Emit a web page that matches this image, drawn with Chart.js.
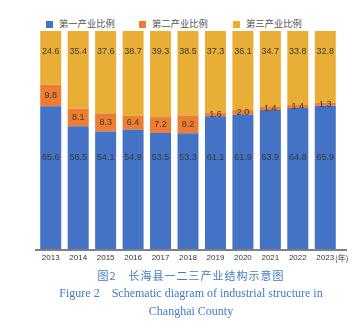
<!DOCTYPE html>
<html>
<head>
<meta charset="utf-8">
<script src="https://cdn.jsdelivr.net/npm/chart.js@4"></script>
<style>
  body { margin: 0; background: #fff; width: 361px; height: 332px; position: relative; overflow: hidden; }
  #wrap { position: absolute; left: 0; top: 0; width: 361px; height: 268px; }
  .lg { position: absolute; top: 17px; font: 9.3px "Noto Sans CJK SC", sans-serif; color: #555; line-height: 12px; }
  .lg i { display: inline-block; width: 7px; height: 7px; margin-right: 6px; vertical-align: -0.5px; }
  .cap { position: absolute; left: 0; width: 382px; text-align: center; color: #3f7bc2; white-space: pre; }
  .zh { top: 267px; font: 11px "Noto Sans CJK SC", sans-serif; letter-spacing: 1px; }
  .en { font: 12px "Liberation Serif", "Times New Roman", serif; }
</style>
</head>
<body>
<div class="lg" style="left:46px"><i style="background:#4472c4"></i>第一产业比例</div>
<div class="lg" style="left:139px"><i style="background:#ed7d31"></i>第二产业比例</div>
<div class="lg" style="left:233px"><i style="background:#e8ae36"></i>第三产业比例</div>
<div id="wrap"><canvas id="chart"></canvas></div>
<div class="cap zh">图2　长海县一二三产业结构示意图</div>
<div class="cap en" style="top:286px">Figure 2    Schematic diagram of industrial structure in</div>
<div class="cap en" style="top:304px">Changhai County</div>
<script>
// data (percent shares, each year sums to 100)
const years = ['2013', '2014', '2015', '2016', '2017', '2018', '2019', '2020', '2021', '2022', '2023'];
const primary = [65.6, 56.5, 54.1, 54.9, 53.5, 53.3, 61.1, 61.9, 63.9, 64.8, 65.9];
const secondary = [9.8, 8.1, 8.3, 6.4, 7.2, 8.2, 1.6, 2.0, 1.4, 1.4, 1.3];
const tertiary = [24.6, 35.4, 37.6, 38.7, 39.3, 38.5, 37.3, 36.1, 34.7, 33.8, 32.8];
const seriesNames = ['第一产业比例', '第二产业比例', '第三产业比例'];

/* value labels + axis line + unit label */
const segLabels = {
  id: 'segLabels',
  afterDatasetsDraw(chart) {
    const ctx = chart.ctx, y = chart.scales.y, area = chart.chartArea;
    ctx.save();
    // axis line
    ctx.strokeStyle = '#808080';
    ctx.lineWidth = 2;
    ctx.beginPath();
    ctx.moveTo(area.left - 2, area.bottom);
    ctx.lineTo(area.right + 8, area.bottom);
    ctx.stroke();

    ctx.font = '9px "Liberation Sans", Arial, sans-serif';
    ctx.fillStyle = '#3a3a3a';
    ctx.textAlign = 'center';
    ctx.textBaseline = 'middle';
    chart.data.datasets.forEach((ds, i) => {
      chart.getDatasetMeta(i).data.forEach((bar, j) => {
        let py;
        if (i === 0) py = y.getPixelForValue(42.3);
        else if (i === 2) py = y.getPixelForValue(90.6);
        else py = (bar.y + bar.base) / 2;
        ctx.fillText(ds.data[j].toFixed(1), bar.x, py);
      });
    });

    ctx.font = '8px "Noto Sans CJK SC", sans-serif';
    ctx.textAlign = 'left';
    ctx.fillText('(年)', area.right - 4, area.bottom + 8);
    ctx.restore();
  }
};

const ctx = document.getElementById('chart').getContext('2d');
const chart = new Chart(ctx, {
  type: 'bar',
  data: {
    labels: years,
    datasets: [
      { label: seriesNames[0], data: primary, backgroundColor: '#4472c4' },
      { label: seriesNames[1], data: secondary, backgroundColor: '#ed7d31' },
      { label: seriesNames[2], data: tertiary, backgroundColor: '#e8ae36' }
    ]
  },
  options: {
    responsive: true,
    maintainAspectRatio: false,
    animation: false,
    layout: { padding: { left: 37, right: 22, top: 31, bottom: 0 } },
    datasets: { bar: { barPercentage: 0.85, categoryPercentage: 0.9 } },
    plugins: { legend: { display: false }, tooltip: { enabled: false } },
    scales: {
      x: {
        stacked: true,
        grid: { display: false, drawTicks: false },
        border: { display: false },
        ticks: { color: '#333', padding: 3, font: { size: 8, family: '"Liberation Sans", Arial, sans-serif' } },
        afterFit: s => { s.height = 18; }
      },
      y: { stacked: true, display: false, min: 0, max: 100 }
    }
  },
  plugins: [segLabels]
});
</script>
</body>
</html>
